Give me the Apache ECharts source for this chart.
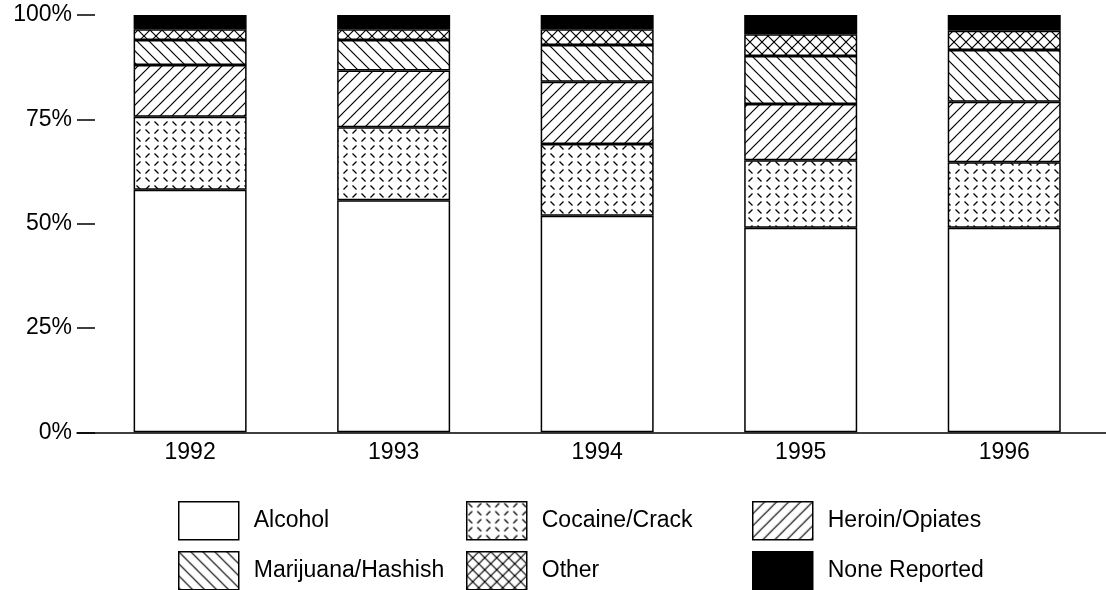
<!DOCTYPE html>
<html>
<head>
<meta charset="utf-8">
<script src="https://cdn.jsdelivr.net/npm/echarts@6/dist/echarts.min.js"></script>
<style>
  html, body { margin: 0; padding: 0; background: #fff; }
  #chart { width: 1106px; height: 590px; }
</style>
</head>
<body>
<div id="chart"></div>
<script>
// values, percent of admissions
const years = ['1992', '1993', '1994', '1995', '1996'];
const alcohol = [58.1, 55.6, 51.9, 49.0, 49.0];
const cocaine = [17.5, 17.5, 17.2, 16.2, 15.7];
const heroin = [12.4, 13.6, 14.9, 13.5, 14.5];
const marijuana = [6.0, 7.3, 8.8, 11.5, 12.4];
const other = [2.6, 2.6, 3.8, 5.2, 4.6];
const noneReported = [3.4, 3.4, 3.4, 4.6, 3.8];
const yTicks = [0, 25, 50, 75, 100];

const FONT = 'Liberation Sans';
const FS = 23;

// hatch fills drawn on small tiles
function tile(w, h, draw) {
  const c = document.createElement('canvas');
  c.width = w; c.height = h;
  const ctx = c.getContext('2d');
  ctx.fillStyle = '#fff';
  ctx.fillRect(0, 0, w, h);
  ctx.strokeStyle = '#000';
  ctx.lineWidth = 1.2;
  draw(ctx, w);
  return { image: c, repeat: 'repeat' };
}
function line(ctx, x1, y1, x2, y2) {
  ctx.beginPath(); ctx.moveTo(x1, y1); ctx.lineTo(x2, y2); ctx.stroke();
}
const fwd = (ctx, s) => { // "/"
  line(ctx, -1, s + 1, s + 1, -1);
  line(ctx, -2, 2, 2, -2);
  line(ctx, s - 2, s + 2, s + 2, s - 2);
};
const back = (ctx, s) => { // "\"
  line(ctx, -1, -1, s + 1, s + 1);
  line(ctx, -2, s - 2, 2, s + 2);
  line(ctx, s - 2, -2, s + 2, 2);
};

const patterns = {
  alcohol: '#fff',
  cocaine: tile(18, 16, (ctx) => {
    ctx.lineWidth = 1.3;
    line(ctx, 1.5, 1.5, 5.5, 5.5);
    line(ctx, 10.5, 5.5, 14.5, 1.5);
    line(ctx, 1.5, 13.5, 5.5, 9.5);
    line(ctx, 10.5, 9.5, 14.5, 13.5);
  }),
  heroin: tile(12, 12, fwd),
  marijuana: tile(12, 12, back),
  other: tile(12, 12, (ctx, s) => { fwd(ctx, s); back(ctx, s); }),
  none: '#000'
};

const seriesDefs = [
  ['Alcohol', alcohol, patterns.alcohol],
  ['Cocaine/Crack', cocaine, patterns.cocaine],
  ['Heroin/Opiates', heroin, patterns.heroin],
  ['Marijuana/Hashish', marijuana, patterns.marijuana],
  ['Other', other, patterns.other],
  ['None Reported', noneReported, patterns.none]
];

// one legend per slot so the columns line up
const legendSlots = [
  ['Alcohol', 178, 501], ['Cocaine/Crack', 466, 501], ['Heroin/Opiates', 752, 501],
  ['Marijuana/Hashish', 178, 551], ['Other', 466, 551], ['None Reported', 752, 551]
];

const chart = echarts.init(document.getElementById('chart'), null, { renderer: 'canvas' });

chart.setOption({
  animation: false,
  backgroundColor: '#fff',
  legend: legendSlots.map(([name, left, top]) => ({
    left: left,
    top: top,
    padding: 0,
    itemWidth: 60,
    itemHeight: 38,
    icon: 'rect',
    selectedMode: false,
    data: [name],
    itemStyle: { borderColor: '#000', borderWidth: 1.5 },
    textStyle: { fontFamily: FONT, fontSize: FS, color: '#000', padding: [0, 0, 0, 10] }
  })),
  grid: [
    { left: 88.35, right: -8.85, top: 15, bottom: 157.7 },
    { left: 77, right: 0, top: 15, bottom: 157.7 }
  ],
  xAxis: [
    {
      type: 'category',
      gridIndex: 0,
      data: years,
      axisLine: { show: false },
      axisTick: { show: false },
      axisLabel: { fontFamily: FONT, fontSize: FS, color: '#000', margin: 9 }
    },
    {
      // baseline only, running under the tick marks
      type: 'value',
      gridIndex: 1,
      axisLine: { show: true, lineStyle: { color: '#000', width: 1.5 } },
      axisTick: { show: false },
      axisLabel: { show: false },
      splitLine: { show: false }
    }
  ],
  yAxis: [
    {
      type: 'value',
      gridIndex: 0,
      min: yTicks[0],
      max: yTicks[yTicks.length - 1],
      interval: 25,
      offset: 11.35,
      axisLine: { show: false },
      axisTick: { show: true, inside: true, length: 18, lineStyle: { color: '#000', width: 1.5 } },
      axisLabel: { fontFamily: FONT, fontSize: FS, color: '#000', margin: 5, formatter: '{value}%' },
      splitLine: { show: false }
    },
    { type: 'value', gridIndex: 1, show: false }
  ],
  series: seriesDefs.map(([name, data, color]) => ({
    name: name,
    type: 'bar',
    stack: 'total',
    xAxisIndex: 0,
    yAxisIndex: 0,
    barWidth: 113,
    data: data,
    itemStyle: { color: color, borderColor: '#000', borderWidth: 1.5 }
  }))
});
</script>
</body>
</html>
